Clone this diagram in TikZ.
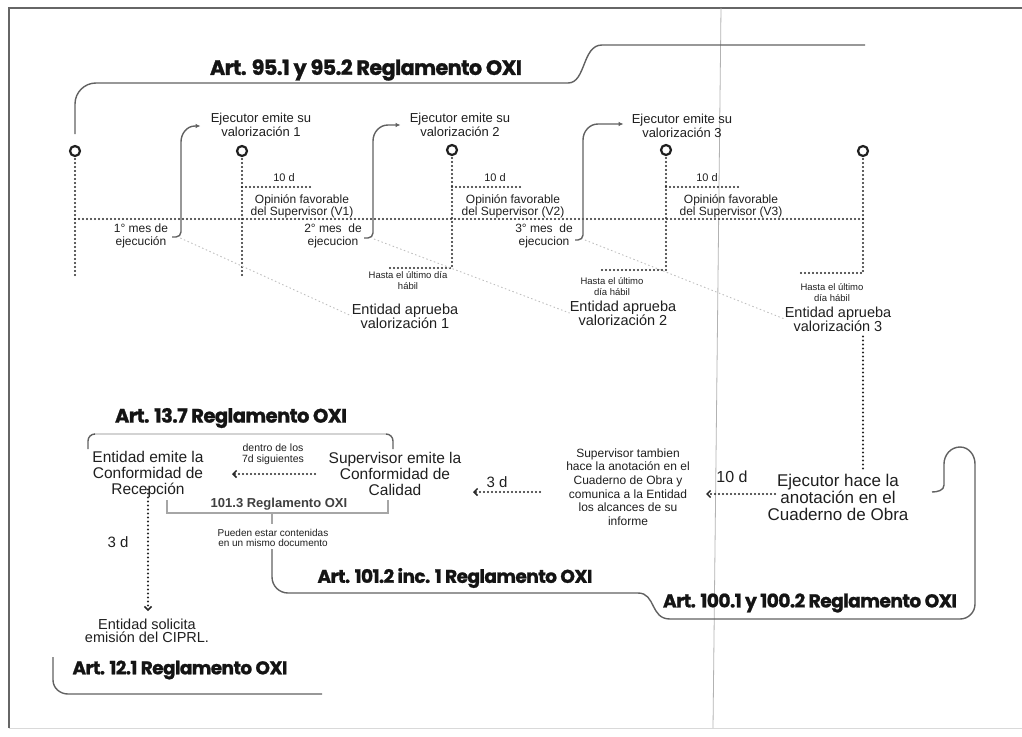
\documentclass[tikz,border=0pt]{standalone}
\usepackage{fontspec}
\setmainfont{Liberation Sans}
\newfontfamily\titlefont[LetterSpace=-3,FakeBold=1.2]{Poppins}
\usetikzlibrary{arrows.meta}
\newcommand{\fsz}[2]{\fontsize{#1}{#2}\selectfont}
\newcommand{\ttl}[2]{\resizebox{#1pt}{!}{\titlefont\bfseries #2}}
\begin{document}
\begin{tikzpicture}[x=1pt,y=-1pt,
  every node/.style={inner sep=0pt, text=black!88, align=center},
  dotl/.style={line width=2.2pt, dash pattern=on 0pt off 4pt, line cap=round, draw=black!85},
  darr/.style={dotl, -{Straight Barb[length=3.5pt,width=7pt,line width=1.5pt]}},
  bline/.style={line width=1.4pt, draw=black!62},
  garr/.style={bline, -{Latex[length=5pt,width=4.5pt]}},
  circ/.style={circle, draw=black!88, line width=2.2pt, fill=white, minimum size=10pt, inner sep=0pt},
  faint/.style={draw=black!25, line width=0.9pt, dash pattern=on 1.5pt off 2.5pt},
  ejt/.style={font=\fsz{13}{14.5}},
  opt/.style={font=\fsz{12}{12}},
  mest/.style={font=\fsz{12}{13}},
  hst/.style={font=\fsz{9.5}{11}},
  apt/.style={font=\fsz{14.5}{14}},
  bigt/.style={font=\fsz{15.5}{16}},
  smlt/.style={font=\fsz{10.5}{11}},
  ddt/.style={font=\fsz{15}{15}},
  tent/.style={font=\fsz{11}{11}},
  ttlt/.style={text=black!92}
]
\useasboundingbox (0,0) rectangle (1022,736);
% frame and scan fold
\draw[line width=1.5pt, draw=black!60] (9,728) -- (9,8) -- (1022,8);
\draw[line width=0.8pt, draw=black!15] (9,728) -- (1022,728);
\draw[line width=0.8pt, draw=black!30] (721,8) -- (713,728);

% ---------- top title bracket
\node[ttlt] (t1) at (366,70) {\ttl{312}{Art. 95.1 y 95.2 Reglamento OXI}};
\coordinate (b1s) at (75,134);
\coordinate (b1e) at (865,45);
\draw[bline] (b1s) -- (75,104) to[out=90,in=180] (96,83) -- (568,83)
   .. controls (586,83) and (582,45) .. (602,45) -- (b1e);

% timeline dotted lines
\draw[dotl] (75,151) -- (75,277);
\draw[dotl] (242,151) -- (242,277);
\draw[dotl] (452,150) -- (452,268) -- (390,268);
\draw[dotl] (666,150) -- (666,270) -- (602,270);
\draw[dotl] (863,151) -- (863,273) -- (798,273);
\draw[dotl] (75,219) -- (863,219);
\draw[dotl] (242,187) -- (312,187);
\draw[dotl] (452,187) -- (520,187);
\draw[dotl] (666,187) -- (738,187);

% circles
\node[circ] (o1) at (75,151) {};
\node[circ] (o2) at (242,151) {};
\node[circ] (o3) at (452,150) {};
\node[circ] (o4) at (666,150) {};
\node[circ] (o5) at (863,151) {};

% Ejecutor emite arrows
\node[ejt] (e1) at (261,125) {Ejecutor emite su\\valorización 1};
\node[ejt] (e2) at (460,125) {Ejecutor emite su\\valorización 2};
\node[ejt] (e3) at (682,126) {Ejecutor emite su\\valorización 3};
\node[mest] (m1) at (141,236) {1° mes de\\ejecución};
\node[mest] (m2) at (333,236) {2° mes\ \ de\\ejecucion};
\node[mest] (m3) at (544,236) {3° mes\ \ de\\ejecucion};
\draw[garr] (172,237) -- (176,237) to[out=0,in=-90] (181,232) -- (181,142) to[out=90,in=180] (195,126) -- ([xshift=-10pt]e1.west |- 0,126);
\draw[garr] (364,238) -- (368,238) to[out=0,in=-90] (373,233) -- (373,141) to[out=90,in=180] (388,125) -- ([xshift=-9pt]e2.west |- 0,125);
\draw[garr] (575,240) -- (578,240) to[out=0,in=-90] (583,235) -- (583,140) to[out=90,in=180] (598,124) -- ([xshift=-8pt]e3.west |- 0,124);

% 10 d labels
\node[tent] (d1) at (284,178) {10 d};
\node[tent] (d2) at (495,178) {10 d};
\node[tent] (d3) at (707,178) {10 d};
\node[opt] (op1) at (302,206) {Opinión favorable\\del Supervisor (V1)};
\node[opt] (op2) at (513,206) {Opinión favorable\\del Supervisor (V2)};
\node[opt] (op3) at (731,206) {Opinión favorable\\del Supervisor (V3)};

% Hasta / Entidad aprueba
\node[hst] (h1) at (408,281) {Hasta el último día\\hábil};
\node[hst] (h2) at (612,287) {Hasta el último\\día hábil};
\node[hst] (h3) at (832,293) {Hasta el último\\día hábil};
\node[apt] (a1) at (405,316) {Entidad aprueba\\valorización 1};
\node[apt] (a2) at (623,313) {Entidad aprueba\\valorización 2};
\node[apt] (a3) at (838,319) {Entidad aprueba\\valorización 3};
\draw[faint] (m1.east) ++(12,2) -- (a1.west);
\draw[faint] (m2.east) ++(12,3) -- (a2.west);
\draw[faint] (m3.east) ++(12,4) -- (a3.west);

% ---------- lower part
\node[ttlt] (t2) at (231,418) {\ttl{232}{Art. 13.7 Reglamento OXI}};
\draw[bline] (88,449) -- (88,441) to[out=90,in=180] (95,434);
\draw[bline] (386,434) to[out=0,in=90] (393,441) -- (393,449);
\draw[line width=1.4pt, draw=black!75, dash pattern=on 0pt off 2pt, line cap=round] (95,434) -- (386,434);

\node[bigt] (r1) at (148,474) {Entidad emite la\\Conformidad de\\Recepción};
\node[bigt] (s1) at (395,474) {Supervisor emite la\\Conformidad de\\Calidad};
\node[smlt] (dn) at (273,454) {dentro de los\\7d siguientes};
\coordinate (k1) at (315,474);
\coordinate (k2) at (232,474);
\draw[darr] (k1) -- (k2);

\node[font=\fsz{13}{13}\bfseries, text=black!75] (r3) at (279,504) {101.3 Reglamento OXI};
\draw[line width=1.1pt, draw=black!35] (167,500) -- (167,513) -- (388,513) -- (388,500);
\draw[line width=1.1pt, draw=black!35] (272,513) -- (272,524);
\node[font=\fsz{10}{10}] (pu) at (273,538) {Pueden estar contenidas\\en un mismo documento};

\node[ttlt] (t3) at (455,578) {\ttl{275}{Art. 101.2 inc. 1 Reglamento OXI}};
\node[ttlt] (t4) at (810,603) {\ttl{294}{Art. 100.1 y 100.2 Reglamento OXI}};
\coordinate (lp1) at (272,549);
\coordinate (lp2) at (932,492);
\draw[bline] (lp1) -- (272,577) to[out=-90,in=180] (288,593) -- (638,593)
   .. controls (656,593) and (650,619) .. (670,619) -- (960,619)
   to[out=0,in=-90] (975,604) -- (975,464) to[out=90,in=0] (960,447)
   to[out=180,in=90] (944,464) -- (944,485) to[out=-90,in=0] (lp2);

% 3 d vertical
\node[ddt] (d3a) at (118,542) {3 d};
\node[font=\fsz{14.5}{13}] (cp) at (147,631) {Entidad solicita\\emisión del CIPRL.};
\coordinate (cpt) at (148,611);
\draw[darr] ([yshift=8pt]r1.south) -- (cpt);

\node[ttlt] (t5) at (180,670) {\ttl{215}{Art. 12.1 Reglamento OXI}};
\coordinate (lq1) at (53,657);
\coordinate (lq2) at (322,694);
\draw[bline] (lq1) -- (53,680) to[out=-90,in=180] (68,694) -- (lq2);

% right side
\node[ddt] (d3b) at (497,482) {3 d};
\node[font=\fsz{12}{13.7}] (st) at (628,487) {Supervisor tambien\\hace la anotación en el\\Cuaderno de Obra y\\comunica a la Entidad\\los alcances de su\\informe};
\node[font=\fsz{16}{16}] (d10) at (732,477) {10 d};
\node[font=\fsz{17}{17}] (ej) at (838,497) {Ejecutor hace la\\anotación en el\\Cuaderno de Obra};
\coordinate (k3) at (540,492);
\coordinate (k4) at (473,492);
\draw[darr] (k3) -- (k4);
\coordinate (k5) at (775,494);
\coordinate (k6) at (706,494);
\draw[darr] (k5) -- (k6);
\draw[dotl, shorten <=5pt, shorten >=4pt] (a3.south -| o5) -- (ej.north -| o5);
\end{tikzpicture}
\end{document}
